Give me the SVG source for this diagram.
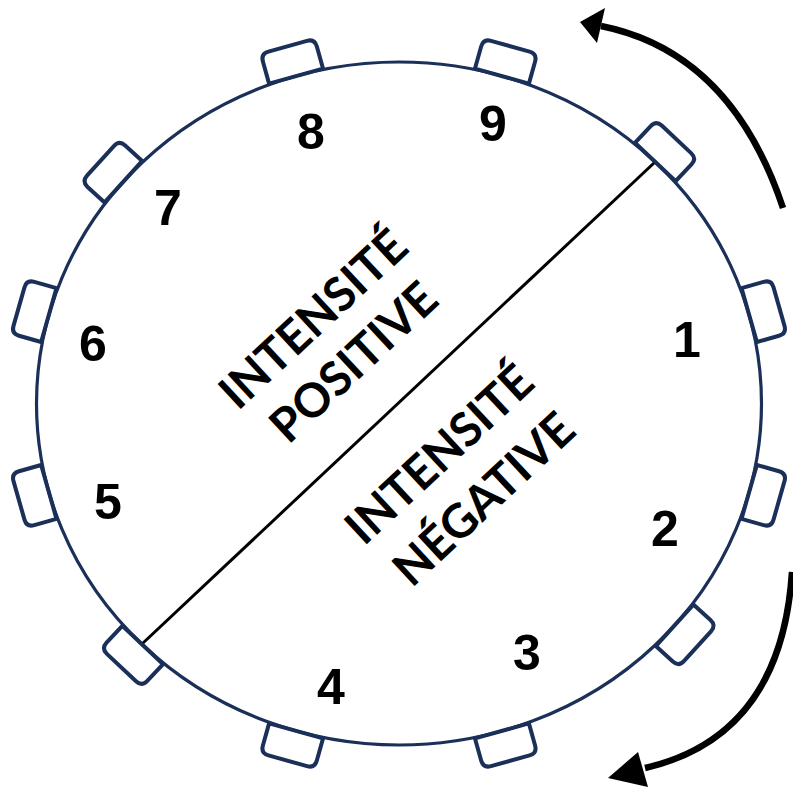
<svg xmlns="http://www.w3.org/2000/svg" width="793" height="789" viewBox="0 0 793 789">
<style>
.tbl{fill:none;stroke:#1b3058;stroke-width:3.2}
.ch{fill:#fff;stroke:#1b3058;stroke-width:4;stroke-linejoin:round}
.num{font-family:"Liberation Sans",Arial,sans-serif;font-weight:bold;font-size:50px;fill:#000;text-anchor:middle}
.lbl{font-family:Lato,"Open Sans",sans-serif;font-weight:bold;font-size:47px;fill:#000;text-anchor:middle}
.arr{fill:none;stroke:#000;stroke-width:6.5}
</style>
<defs>
<path id="chair" d="M-28,0 V-23 Q-28,-31 -20,-31 H20 Q28,-31 28,-23 V0 Z"/>
</defs>
<rect width="793" height="789" fill="#fff"/>
<g id="chairs">
<g id="chair1"><use href="#chair" class="ch" transform="translate(296.05,76.1) rotate(-15.6)"/></g>
<g id="chair2"><use href="#chair" class="ch" transform="translate(501.95,76.1) rotate(15.6)"/></g>
<g id="chair3"><use href="#chair" class="ch" transform="translate(655.3,162) rotate(43.3)"/></g>
<g id="chair4"><use href="#chair" class="ch" transform="translate(749.2,315.1) rotate(74.1)"/></g>
<g id="chair5"><use href="#chair" class="ch" transform="translate(749.2,491.9) rotate(105.9)"/></g>
<g id="chair6"><use href="#chair" class="ch" transform="translate(674.6,625.3) rotate(132.2)"/></g>
<g id="chair7"><use href="#chair" class="ch" transform="translate(501.95,730.9) rotate(164.4)"/></g>
<g id="chair8"><use href="#chair" class="ch" transform="translate(296.05,730.9) rotate(-164.4)"/></g>
<g id="chair9"><use href="#chair" class="ch" transform="translate(142.7,645) rotate(-136.7)"/></g>
<g id="chair10"><use href="#chair" class="ch" transform="translate(48.8,491.9) rotate(-105.9)"/></g>
<g id="chair11"><use href="#chair" class="ch" transform="translate(48.8,315.1) rotate(-74.1)"/></g>
<g id="chair12"><use href="#chair" class="ch" transform="translate(123.4,181.7) rotate(-47.8)"/></g>
</g>
<g id="table">
<ellipse cx="399" cy="403.5" rx="362.5" ry="341.5" class="tbl"/>
<line x1="143" y1="643" x2="654" y2="163" stroke="#000" stroke-width="3"/>
</g>
<g id="numbers">
<text class="num" x="311" y="149">8</text>
<text class="num" x="493" y="141">9</text>
<text class="num" x="168" y="225">7</text>
<text class="num" x="93" y="361">6</text>
<text class="num" x="687" y="357">1</text>
<text class="num" x="108" y="519">5</text>
<text class="num" x="665" y="546">2</text>
<text class="num" x="527" y="670">3</text>
<text class="num" x="331" y="704">4</text>
</g>
<g id="labels" transform="translate(399,403.5) rotate(-43)">
<text class="lbl" x="-5" y="-104">INTENSITÉ</text>
<text class="lbl" x="-5" y="-45">POSITIVE</text>
<text class="lbl" x="-5" y="81">INTENSITÉ</text>
<text class="lbl" x="-3" y="144">NÉGATIVE</text>
</g>
<g id="connectors">
<path class="arr" d="M783,208 Q731,52 601,26"/>
<polygon points="580,22 605,8 597,43"/>
<path class="arr" d="M792,572 Q781.3,736.6 645,768"/>
<polygon points="608,778 638,752 648,787"/>
</g>
</svg>
